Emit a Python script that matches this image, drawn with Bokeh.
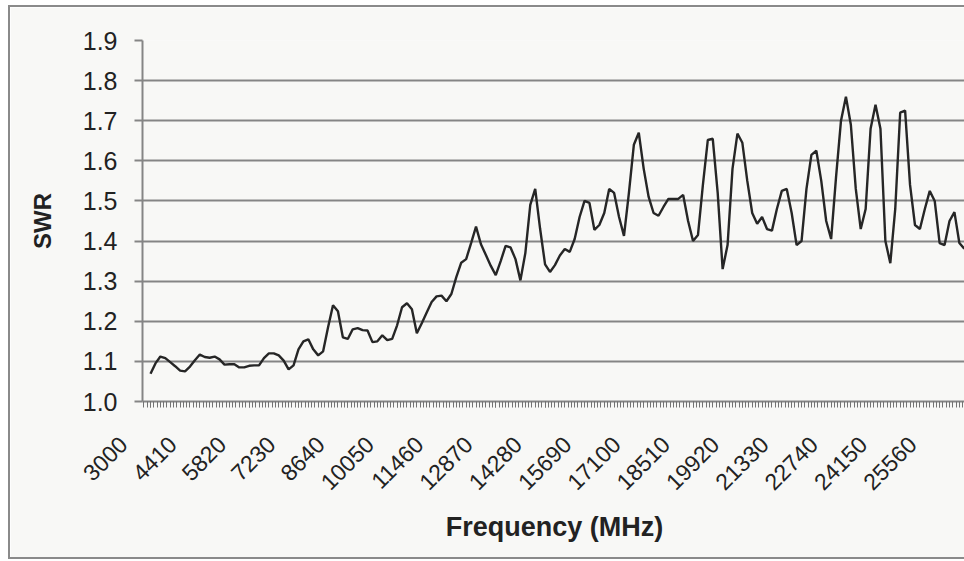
from math import pi
from bokeh.plotting import figure
from bokeh.models import Range1d, FixedTicker, NumeralTickFormatter
from bokeh.embed import file_html
from bokeh.resources import INLINE

# SWR readings, one every 141 MHz starting at 3000 MHz
freq_start = 3000
freq_step = 141
swr = [
    1.069, 1.095, 1.112, 1.108, 1.098, 1.088, 1.077, 1.075, 1.087, 1.103,
    1.117, 1.111, 1.109, 1.112, 1.105, 1.092, 1.093, 1.093, 1.085, 1.085,
    1.089, 1.090, 1.090, 1.108, 1.120, 1.120, 1.115, 1.102, 1.080, 1.090,
    1.130, 1.150, 1.155, 1.130, 1.115, 1.125, 1.185, 1.240, 1.225, 1.160,
    1.156, 1.180, 1.183, 1.178, 1.177, 1.148, 1.150, 1.165, 1.153, 1.156,
    1.190, 1.235, 1.245, 1.230, 1.170, 1.195, 1.222, 1.248, 1.262, 1.264,
    1.250, 1.268, 1.310, 1.346, 1.355, 1.395, 1.436, 1.392, 1.365, 1.338,
    1.315, 1.350, 1.388, 1.384, 1.355, 1.302, 1.370, 1.490, 1.530, 1.430,
    1.342, 1.323, 1.340, 1.364, 1.380, 1.373, 1.405, 1.460, 1.500, 1.495,
    1.428, 1.440, 1.470, 1.530, 1.520, 1.460, 1.413, 1.520, 1.640, 1.670,
    1.580, 1.510, 1.470, 1.463, 1.485, 1.505, 1.505, 1.505, 1.515, 1.450,
    1.400, 1.415, 1.540, 1.652, 1.655, 1.520, 1.330, 1.390, 1.580, 1.668,
    1.645, 1.550, 1.470, 1.443, 1.460, 1.430, 1.426, 1.480, 1.525, 1.530,
    1.470, 1.390, 1.400, 1.530, 1.615, 1.625, 1.550, 1.450, 1.405, 1.560,
    1.700, 1.760, 1.690, 1.530, 1.430, 1.480, 1.680, 1.740, 1.680, 1.400,
    1.345, 1.480, 1.720, 1.725, 1.540, 1.440, 1.430, 1.480, 1.525, 1.500,
    1.395, 1.390, 1.450, 1.472, 1.395, 1.381,
]
freq = [freq_start + freq_step * i for i in range(len(swr))]

x_tick_labels = [3000, 4410, 5820, 7230, 8640, 10050, 11460, 12870, 14280,
                 15690, 17100, 18510, 19920, 21330, 22740, 24150, 25560]
y_ticks = [1.0, 1.1, 1.2, 1.3, 1.4, 1.5, 1.6, 1.7, 1.8, 1.9]

bg = "#f8f8f6"
grey = "#858585"
border = "2px solid #8a8a8a"
pad = "\u00a0" * 6  # rotated labels end a little left of their category, as in the original

p = figure(width=954, height=550, output_backend="svg", toolbar_location=None,
           x_range=Range1d(2771, 26328), y_range=Range1d(1.0, 1.9),
           min_border_left=132, min_border_right=0, min_border_top=33,
           min_border_bottom=160)
p.styles = {"margin-left": "8px", "margin-top": "5px", "border-left": border,
            "border-top": border, "border-bottom": border, "box-sizing": "content-box"}
p.background_fill_color = bg
p.border_fill_color = bg
p.outline_line_color = None

p.line(freq, swr, line_color="#262626", line_width=2.4)

# x axis: dense tick marks, rotated category labels
minor = list(range(3000 - 94 * 2, 26400, 94))
xax = p.xaxis[0]
xax.ticker = FixedTicker(ticks=x_tick_labels, minor_ticks=minor)
xax.major_label_overrides = {v: str(v) + pad for v in x_tick_labels}
xax.major_label_orientation = pi / 4
xax.major_label_standoff = 6
xax.major_label_text_font = "Liberation Sans"
xax.major_label_text_font_size = "23px"
xax.major_label_text_color = "#222222"
xax.axis_line_color = grey
xax.axis_line_width = 2
xax.major_tick_out = 6
xax.major_tick_in = 0
xax.minor_tick_out = 6
xax.minor_tick_in = 0
xax.major_tick_line_color = "#6a6a6a"
xax.minor_tick_line_color = "#737373"
xax.axis_label = "Frequency (MHz)"
xax.axis_label_text_font = "Liberation Sans"
xax.axis_label_text_font_style = "bold"
xax.axis_label_text_font_size = "27px"
xax.axis_label_text_color = "#222222"
xax.axis_label_standoff = 5
p.xgrid.grid_line_color = None

# y axis
p.yaxis.ticker = FixedTicker(ticks=y_ticks)
p.yaxis.formatter = NumeralTickFormatter(format="0.0")
p.yaxis.major_label_text_font = "Liberation Sans"
p.yaxis.major_label_text_font_size = "25px"
p.yaxis.major_label_text_color = "#222222"
p.yaxis.major_label_standoff = 17
p.yaxis.axis_line_color = grey
p.yaxis.axis_line_width = 2
p.yaxis.major_tick_out = 8
p.yaxis.major_tick_in = 0
p.yaxis.major_tick_line_color = grey
p.yaxis.major_tick_line_width = 2
p.yaxis.minor_tick_line_color = None
p.yaxis.axis_label = "SWR"
p.yaxis.axis_label_text_font = "Liberation Sans"
p.yaxis.axis_label_text_font_style = "bold"
p.yaxis.axis_label_text_font_size = "24px"
p.yaxis.axis_label_text_color = "#222222"
p.yaxis.axis_label_standoff = 24
p.ygrid.grid_line_color = grey
p.ygrid.grid_line_width = 2

open("out.html", "w").write(file_html(p, INLINE))
